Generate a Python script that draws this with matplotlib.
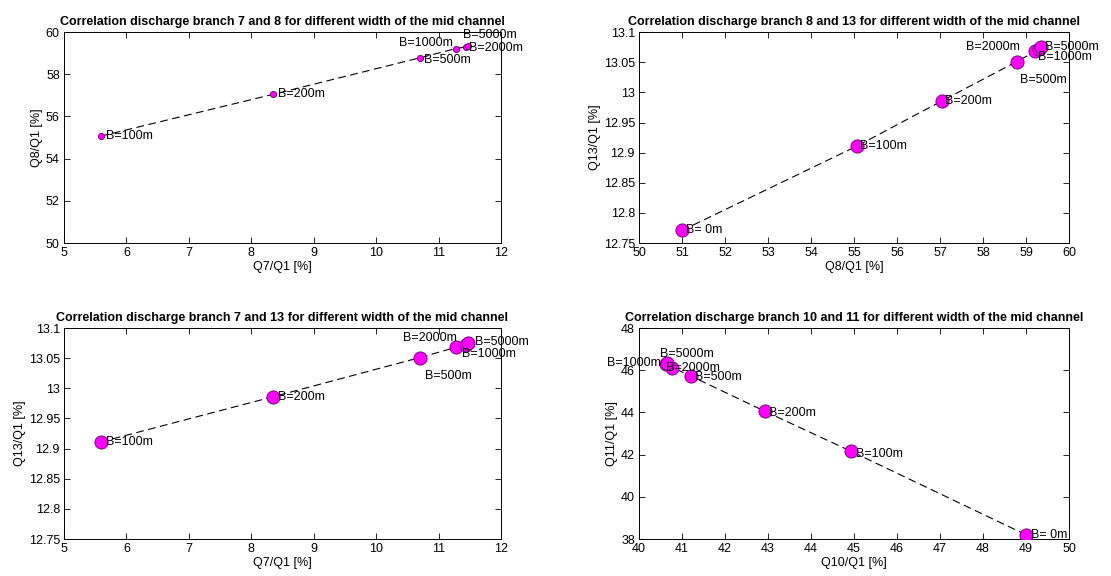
import matplotlib
matplotlib.use("Agg")
import matplotlib.pyplot as plt
import numpy as np

# widths of the mid channel
widths = ["B= 0m", "B=100m", "B=200m", "B=500m", "B=1000m", "B=2000m", "B=5000m"]

# discharge fractions (% of Q1); None = not plotted
q7 = [None, 5.59, 8.35, 10.70, 11.28, 11.44, 11.48]
q8 = [51.0, 55.07, 57.05, 58.78, 59.22, 59.30, 59.36]
q13 = [12.771, 12.911, 12.986, 13.051, 13.068, 13.072, 13.075]
q10 = [49.0, 44.92, 42.93, 41.20, 40.62, 40.77, 40.66]
q11 = [38.2, 42.17, 44.05, 45.73, 46.28, 46.10, 46.33]

# label anchor points (data coords of each text's left-middle)
lab1 = {"B=100m": (5.68, 55.09), "B=200m": (8.43, 57.05), "B=500m": (10.77, 58.67),
        "B=1000m": (10.37, 59.46), "B=2000m": (11.49, 59.23), "B=5000m": (11.39, 59.86)}
lab2 = {"B= 0m": (51.1, 12.771), "B=100m": (55.15, 12.911), "B=200m": (57.12, 12.986),
        "B=500m": (58.86, 13.020), "B=1000m": (59.28, 13.059), "B=2000m": (57.6, 13.075),
        "B=5000m": (59.44, 13.075)}
lab3 = {"B=100m": (5.68, 12.911), "B=200m": (8.43, 12.986), "B=500m": (10.78, 13.021),
        "B=1000m": (11.37, 13.057), "B=2000m": (10.43, 13.083), "B=5000m": (11.59, 13.076)}
lab4 = {"B= 0m": (49.11, 38.18), "B=100m": (45.05, 42.03), "B=200m": (43.03, 43.96),
        "B=500m": (41.3, 45.66), "B=1000m": (39.26, 46.36), "B=2000m": (40.63, 46.12),
        "B=5000m": (40.49, 46.75)}

plt.rcParams["font.family"] = ["Liberation Sans", "DejaVu Sans"]
plt.rcParams["font.size"] = 9

fig = plt.figure(figsize=(11.11, 5.76), dpi=100)

W_L, W_R = 0.3933, 0.387
H = 0.3663
axes = [
    fig.add_axes([0.0576, 0.578, W_L, H]),
    fig.add_axes([0.5752, 0.578, W_R, H]),
    fig.add_axes([0.0576, 0.0642, W_L, H]),
    fig.add_axes([0.5752, 0.0642, W_R, H]),
]

panels = [
    (q7, q8, lab1, "Q7/Q1 [%]", "Q8/Q1 [%]", (5, 12), (50, 60), np.arange(5, 13, 1),
     np.arange(50, 61, 2),
     "Correlation discharge branch 7 and 8 for different width of the mid channel", 4.5),
    (q8, q13, lab2, "Q8/Q1 [%]", "Q13/Q1 [%]", (50, 60), (12.75, 13.1), np.arange(50, 61, 1),
     np.arange(12.75, 13.101, 0.05),
     "Correlation discharge branch 8 and 13 for different width of the mid channel", 9.5),
    (q7, q13, lab3, "Q7/Q1 [%]", "Q13/Q1 [%]", (5, 12), (12.75, 13.1), np.arange(5, 13, 1),
     np.arange(12.75, 13.101, 0.05),
     "Correlation discharge branch 7 and 13 for different width of the mid channel", 9.5),
    (q10, q11, lab4, "Q10/Q1 [%]", "Q11/Q1 [%]", (40, 50), (38, 48), np.arange(40, 51, 1),
     np.arange(38, 49, 2),
     "Correlation discharge branch 10 and 11 for different width of the mid channel", 9.5),
]

for ax, (xs, ys, labs, xl, yl, xlim, ylim, xt, yt, title, ms) in zip(axes, panels):
    pts = [(x, y) for x, y in zip(xs, ys) if x is not None]
    px = [p[0] for p in pts]
    py = [p[1] for p in pts]
    ax.plot(px, py, color="black", lw=0.8, ls=(0, (7, 4)), zorder=2)
    ax.plot(px, py, ls="none", marker="o", ms=ms, mfc="#ff00ff", mec="#6a006a",
            mew=0.6, zorder=3)
    for name, (tx, ty) in labs.items():
        ax.text(tx, ty, name, ha="left", va="center", fontsize=9, clip_on=False, zorder=4)
    ax.set_xlim(*xlim)
    ax.set_ylim(*ylim)
    ax.set_xticks(xt)
    ax.set_yticks(yt)
    ax.set_yticklabels([("%g" % round(v, 2)) for v in yt])
    ax.set_xlabel(xl, labelpad=1)
    ax.set_ylabel(yl, labelpad=2)
    ax.set_title(title, fontsize=9, fontweight="bold", pad=5)
    ax.tick_params(direction="in", top=True, right=True, length=4, width=0.6, pad=3)
    for s in ax.spines.values():
        s.set_linewidth(0.7)

fig.savefig("out.png", dpi=100)
